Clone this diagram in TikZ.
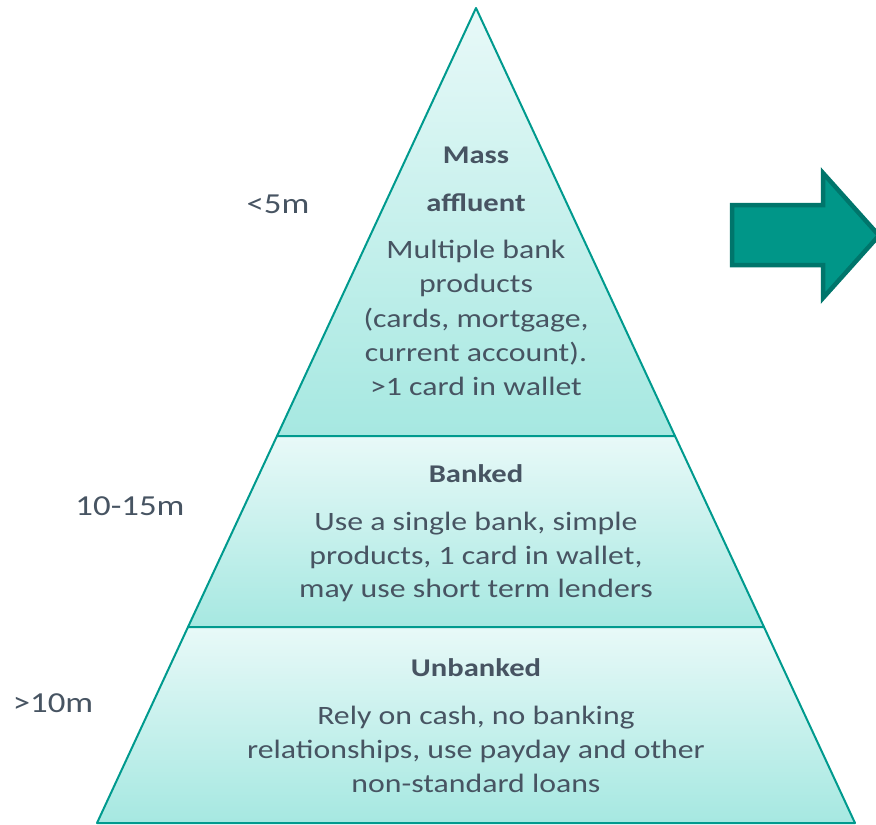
\documentclass[tikz,border=0pt]{standalone}
\usepackage{fontspec}
\setmainfont{Carlito}[FakeStretch=1.2]
\definecolor{tealline}{HTML}{009A8E}
\definecolor{tierlight}{HTML}{E8F9F8}
\definecolor{tierdark}{HTML}{A6E8E1}
\definecolor{txt}{HTML}{475462}
\definecolor{arrowfill}{HTML}{009688}
\definecolor{arrowline}{HTML}{00756B}
\begin{document}
\begin{tikzpicture}[x=1pt,y=-1pt,
  tier/.style={draw=tealline,line width=2pt,top color=tierlight,bottom color=tierdark,line join=round},
  body/.style={anchor=base,text=txt,font=\fontsize{26.5}{30}\selectfont,inner sep=0pt},
  head/.style={anchor=base,text=txt,font=\fontsize{25.5}{30}\selectfont\bfseries,inner sep=0pt},
  lab/.style={anchor=base,text=txt,font=\fontsize{29}{32}\selectfont,inner sep=0pt},
  bigarrow/.style={fill=arrowfill,draw=arrowline,line width=4.5pt,line join=miter}]
\useasboundingbox (0,0) rectangle (876,825);
\clip (0,0) rectangle (876,825);
% pyramid tiers
\path[tier] (476,8) -- (675,436) -- (277,436) -- cycle;
\path[tier] (277,436) -- (675,436) -- (764,627) -- (188,627) -- cycle;
\path[tier] (188,627) -- (764,627) -- (855,823) -- (97,823) -- cycle;
% arrow
\path[bigarrow] (732,205) -- (823,205) -- (823,173) -- (879,235.5) -- (823,298) -- (823,265) -- (732,265) -- cycle;
% top tier text
\node[head] (t1a) at (476,163) {Mass};
\node[head] (t1b) at (476,211) {affluent};
\node[body] (t1c) at (476,258) {Multiple bank};
\node[body] (t1d) at (476,292.5) {products};
\node[body] (t1e) at (476,327) {(cards, mortgage,};
\node[body] (t1f) at (476,361) {current account).};
\node[body] (t1g) at (476,395.5) {>1 card in wallet};
% middle tier text
\node[head] (t2a) at (476,482) {Banked};
\node[body] (t2b) at (476,530) {Use a single bank, simple};
\node[body] (t2c) at (476,564) {products, 1 card in wallet,};
\node[body] (t2d) at (476,597.5) {may use short term lenders};
% bottom tier text
\node[head] (t3a) at (476,676) {Unbanked};
\node[body] (t3b) at (476,724) {Rely on cash, no banking};
\node[body] (t3c) at (476,758) {relationships, use payday and other};
\node[body] (t3d) at (476,792) {non-standard loans};
% side labels
\node[lab] (l1) at (278,213) {<5m};
\node[lab] (l2) at (130,515) {10-15m};
\node[lab] (l3) at (53,712) {>10m};
\end{tikzpicture}
\end{document}
